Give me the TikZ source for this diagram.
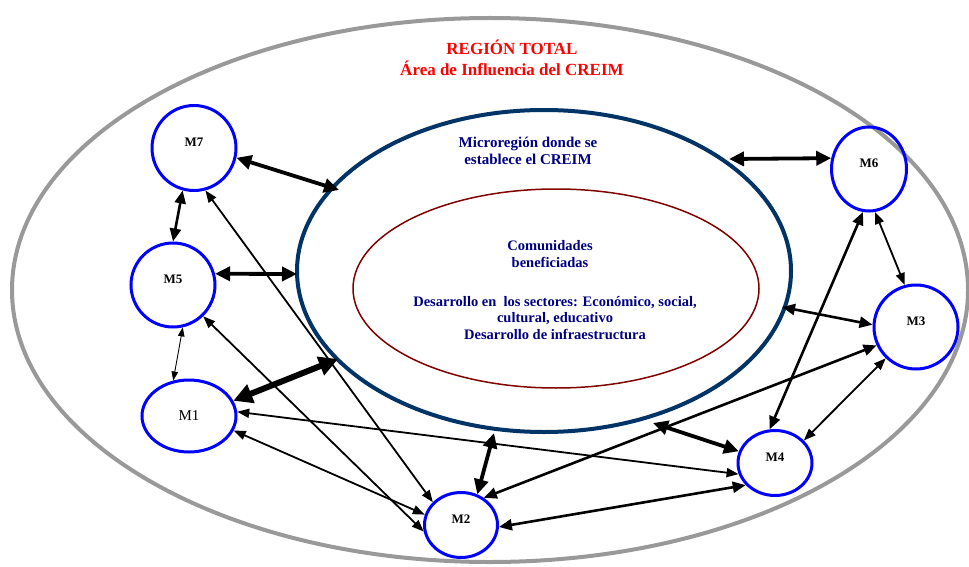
\documentclass[tikz,border=0pt]{standalone}
\usepackage{fontspec}
\setmainfont{Liberation Serif}
\usetikzlibrary{arrows.meta,shapes.geometric}
\definecolor{outergray}{RGB}{153,153,153}
\definecolor{microblue}{RGB}{0,51,102}
\definecolor{innerred}{RGB}{128,0,0}
\definecolor{navytext}{RGB}{0,0,128}
\definecolor{mblue}{RGB}{0,0,255}
\tikzset{
  mnode/.style={ellipse, draw=mblue, line width=3pt, inner sep=0pt,
    font=\bfseries\fontsize{13}{15}\selectfont},
  lifted/.style={text height=9pt, text depth=12pt},
  arrA/.style={line width=6pt, >={Triangle[length=19pt,width=19pt]}, <->},
  arrB/.style={line width=3.8pt, >={Triangle[length=15pt,width=14pt]}, <->},
  arrC/.style={line width=2.6pt, >={Triangle[length=13pt,width=11pt]}, <->},
  arrD/.style={line width=1.8pt, >={Triangle[length=12pt,width=9pt]}, <->},
  arrE/.style={line width=0.9pt, >={Triangle[length=9pt,width=6.5pt]}, <->},
  titletext/.style={text=red, align=center, font=\bfseries\fontsize{17}{21}\selectfont},
  microtext/.style={text=navytext, align=center, font=\bfseries\fontsize{15}{17}\selectfont},
  innertext/.style={text=navytext, align=center, font=\bfseries\fontsize{14.5}{16.5}\selectfont},
}
\begin{document}
\begin{tikzpicture}[x=1pt,y=-1pt]
\path[fill=white, use as bounding box] (0,0) rectangle (969,567);

% regions
\draw[outergray, line width=4pt] (490,290) ellipse [x radius=478, y radius=272];
\draw[microblue, line width=4pt] (544,271) ellipse [x radius=247, y radius=161];
\draw[innerred, line width=1.5pt] (556,288.5) ellipse [x radius=203, y radius=99.5];

% texts
\node[titletext] (title) at (512,58) {REGIÓN TOTAL\\Área de Influencia del CREIM};
\node[microtext] (microlabel) at (528,151) {Microregión donde se\\establece el CREIM};
\node[innertext] (comm) at (550,254) {Comunidades\\beneficiadas};
\node[innertext] (desa) at (555,318) {Desarrollo en\ \ los sectores: Económico, social,\\cultural, educativo\\Desarrollo de infraestructura};

% M nodes
\node[mnode, lifted, minimum width=84pt, minimum height=85pt] (M7) at (194,148) {M7};
\node[mnode, lifted, minimum width=84pt, minimum height=84pt] (M5) at (173,285) {M5};
\node[mnode, font=\fontsize{15}{18}\selectfont, minimum width=94pt, minimum height=72pt] (M1) at (189,416) {M1};
\node[mnode, lifted, minimum width=73pt, minimum height=65pt] (M2) at (461,525) {M2};
\node[mnode, lifted, minimum width=74pt, minimum height=65pt] (M4) at (775,463) {M4};
\node[mnode, lifted, minimum width=75pt, minimum height=84pt] (M6) at (869,169) {M6};
\node[mnode, lifted, minimum width=84pt, minimum height=84pt] (M3) at (916,327) {M3};

% points on the microregion border
\coordinate (e7) at (339,190);
\coordinate (e5) at (297,274);
\coordinate (e1) at (338,359);
\coordinate (e2) at (494,433);
\coordinate (e4) at (653,423);
\coordinate (e3) at (782,307);
\coordinate (e6) at (729,159);

% connectors
\draw[arrB] (M7.-13) -- (e7);
\draw[arrC] (M7.-105) -- (M5.90);
\draw[arrB] (M5.15) -- (e5);
\draw[arrD] (M7.-75) -- (M2.141);
\draw[arrE] (M5.-77) -- (M1.114);
\draw[arrD] (M5.-46) -- (M2.190);
\draw[arrA] (M1.19) -- (e1);
\draw[arrD] (M1.5) -- (M4.197);
\draw[arrD] (M1.-18) -- (M2.164);
\draw[arrB] (M2.62) -- (e2);
\draw[arrC] (M2.50) -- (M3.205);
\draw[arrC] (M2.-3) -- (M4.217);
\draw[arrB] (e4) -- (M4.162);
\draw[arrC] (M6.-98) -- (M4.99);
\draw[arrD] (M6.-82) -- (M3.105);
\draw[arrC] (e3) -- (M3.177);
\draw[arrD] (M3.226) -- (M4.38);
\draw[arrB] (e6) -- (M6.164);
\end{tikzpicture}
\end{document}
